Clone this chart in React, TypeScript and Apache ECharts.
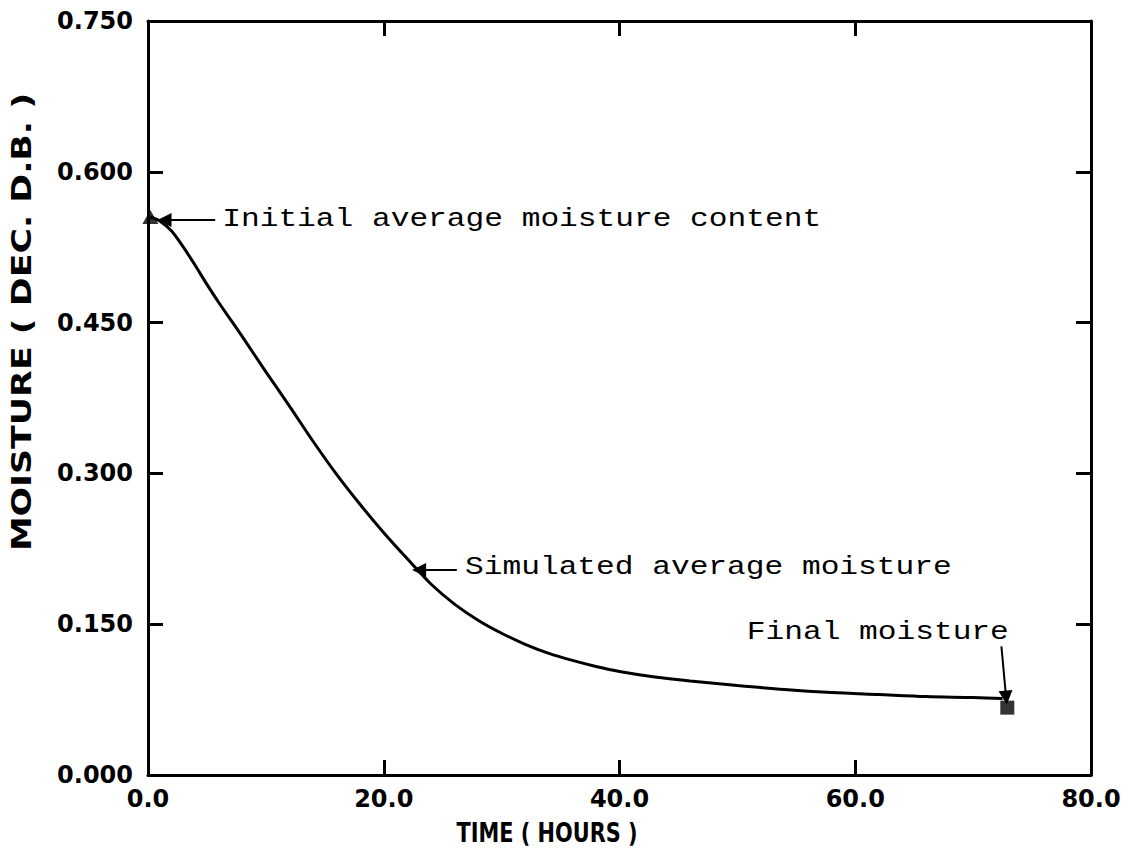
import React, { useEffect, useRef } from 'react';
import * as echarts from 'echarts';

// ---- data ----
const timeHours = [0.2, 1, 2, 3, 4, 5, 6, 8, 10, 12, 14, 16, 18, 20, 22, 24, 26, 28, 30, 32, 34, 36, 38, 40, 43, 46, 50, 54, 58, 62, 66, 70, 72.5];
const moisture = [0.555, 0.551, 0.541, 0.525, 0.507, 0.488, 0.470, 0.436, 0.401, 0.367, 0.332, 0.299, 0.269, 0.241, 0.215, 0.190, 0.170, 0.154, 0.141, 0.130, 0.121, 0.114, 0.108, 0.103, 0.0975, 0.0935, 0.089, 0.085, 0.082, 0.080, 0.078, 0.077, 0.076];
const initialPoint = [0.2, 0.555];
const finalPoint = [72.9, 0.067];

const xMin = 0, xMax = 80, xStep = 20;
const yMin = 0, yMax = 0.75, yStep = 0.15;

const annotationTexts = ['Initial average moisture content', 'Simulated average moisture', 'Final moisture'];
const annotationAnchors = [[6.3, 0.553], [26.9, 0.207], [50.8, 0.142]];
const arrowFrom = [[5.7, 0.552], [26.2, 0.204], [72.4, 0.128]];
const arrowTo = [[1.4, 0.552], [23.0, 0.204], [72.8, 0.077]];

const xTitle = 'TIME ( HOURS )';
const yTitle = 'MOISTURE ( DEC. D.B. )';

const AXIS_FONT = 'DejaVu Sans';
const NOTE_FONT = 'Liberation Mono';

export default function App() {
  const ref = useRef<HTMLDivElement>(null);
  useEffect(() => {
    if (!ref.current) return;
    const chart = echarts.init(ref.current, undefined, { renderer: 'svg' });
    const axisLine = { show: true, onZero: false, lineStyle: { color: '#000', width: 3 } };
    const axisTick = { show: true, inside: true, length: 15, lineStyle: { color: '#000', width: 3 } };
    const labelStyle = { color: '#000', fontFamily: AXIS_FONT, fontWeight: 'bold' as const, fontSize: 24 };
    const option: any = {
      animation: false,
      backgroundColor: '#fff',
      grid: { left: 148, right: 44, top: 21, bottom: 82, containLabel: false },
      xAxis: [
        {
          type: 'value', min: xMin, max: xMax, interval: xStep, position: 'bottom',
          axisLine, axisTick, splitLine: { show: false },
          axisLabel: { ...labelStyle, margin: 12, formatter: (v: number) => v.toFixed(1) },
        },
        {
          type: 'value', min: xMin, max: xMax, interval: xStep, position: 'top',
          axisLine, axisTick, splitLine: { show: false }, axisLabel: { show: false },
        },
      ],
      yAxis: [
        {
          type: 'value', min: yMin, max: yMax, interval: yStep, position: 'left',
          axisLine, axisTick, splitLine: { show: false },
          axisLabel: { ...labelStyle, margin: 15, formatter: (v: number) => v.toFixed(3) },
        },
        {
          type: 'value', min: yMin, max: yMax, interval: yStep, position: 'right',
          axisLine, axisTick, splitLine: { show: false }, axisLabel: { show: false },
        },
      ],
      series: [
        {
          type: 'line',
          data: timeHours.map((t, i) => [t, moisture[i]]),
          showSymbol: false,
          smooth: 0.3,
          lineStyle: { color: '#000', width: 3 },
          silent: true,
          markLine: {
            silent: true,
            symbol: ['none', 'triangle'],
            symbolSize: 14,
            label: { show: false },
            lineStyle: { color: '#000', width: 2, type: 'solid' },
            itemStyle: { color: '#000' },
            emphasis: { disabled: true },
            data: arrowFrom.map((f, i) => [{ coord: f }, { coord: arrowTo[i] }]),
          },
        },
        {
          type: 'scatter',
          data: [initialPoint],
          symbol: 'triangle',
          symbolSize: [16, 14],
          itemStyle: { color: '#000' },
          silent: true,
        },
        {
          type: 'scatter',
          data: [finalPoint],
          symbol: 'rect',
          symbolSize: 14,
          itemStyle: { color: '#000' },
          silent: true,
        },
      ],
    };
    chart.setOption(option);

    const notes = annotationTexts.map((txt, i) => {
      const p = chart.convertToPixel({ gridIndex: 0 }, annotationAnchors[i]) as number[];
      return {
        type: 'text', x: p[0], y: p[1], scaleX: 1.2,
        style: { text: txt, fill: '#000', font: `26px "${NOTE_FONT}"`, textAlign: 'left', textVerticalAlign: 'middle' },
        silent: true,
      };
    });
    chart.setOption({
      graphic: [
        ...notes,
        {
          type: 'text', x: 547, y: 833, scaleX: 0.87, scaleY: 1.1,
          style: { text: xTitle, fill: '#000', font: `bold 24px "${AXIS_FONT}"`, textAlign: 'center', textVerticalAlign: 'middle' },
          silent: true,
        },
        {
          type: 'text', x: 22, y: 322, rotation: Math.PI / 2, scaleX: 1.45, scaleY: 1.1,
          style: { text: yTitle, fill: '#000', font: `bold 24px "${AXIS_FONT}"`, textAlign: 'center', textVerticalAlign: 'middle' },
          silent: true,
        },
      ],
    });
    return () => chart.dispose();
  }, []);
  return <div ref={ref} style={{ position: 'fixed', left: 0, top: 0, width: 1135, height: 857 }} />;
}
